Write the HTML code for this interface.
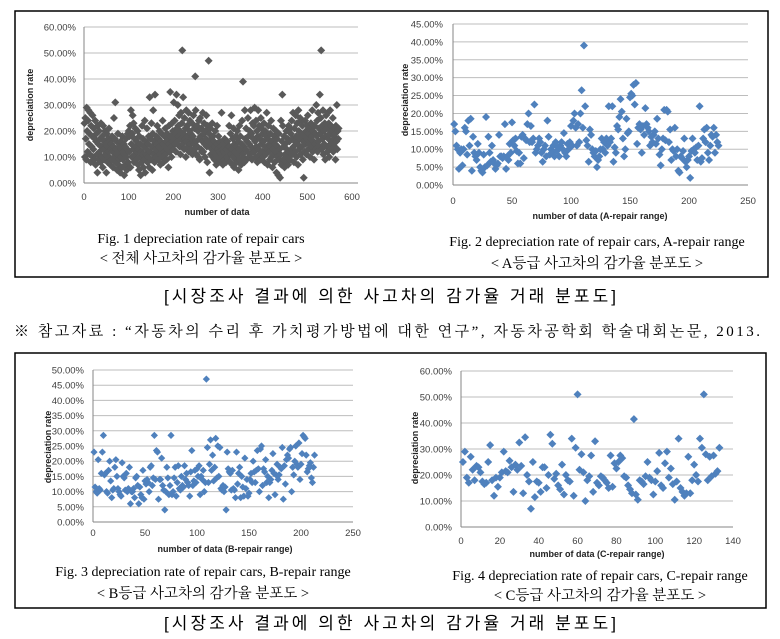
<!DOCTYPE html>
<html><head><meta charset="utf-8"><style>
html,body{margin:0;padding:0;background:#fff;}
svg{display:block;}
</style></head><body>
<svg id="s" width="780" height="639" viewBox="0 0 780 639" xmlns="http://www.w3.org/2000/svg">
<rect x="15" y="11" width="753" height="266" fill="none" stroke="#000" stroke-width="1.5"/>
<rect x="15" y="353" width="751" height="255" fill="none" stroke="#000" stroke-width="1.5"/>
<text x="201" y="243" text-anchor="middle" font-family="Liberation Serif, serif" font-size="14">Fig. 1 depreciation rate of  repair cars</text>
<text x="201" y="263" text-anchor="middle" font-family="Liberation Serif, 'Noto Serif CJK SC', serif" font-size="14.5">&lt; 전체 사고차의 감가율 분포도 &gt;</text>
<text x="597" y="246" text-anchor="middle" font-family="Liberation Serif, serif" font-size="14">Fig. 2 depreciation rate of  repair cars, A-repair range</text>
<text x="597" y="268" text-anchor="middle" font-family="Liberation Serif, 'Noto Serif CJK SC', serif" font-size="14.5">&lt; A등급 사고차의 감가율 분포도 &gt;</text>
<text x="390" y="302" text-anchor="middle" textLength="452" font-family="Liberation Sans, 'Noto Sans CJK KR', sans-serif" font-size="17">[시장조사 결과에 의한 사고차의 감가율 거래 분포도]</text>
<text x="14" y="336" textLength="746" font-family="Liberation Serif, 'Noto Serif CJK SC', serif" font-size="15">※ 참고자료 : “자동차의 수리 후 가치평가방법에 대한 연구”, 자동차공학회 학술대회논문, 2013.</text>
<text x="203" y="576" text-anchor="middle" font-family="Liberation Serif, serif" font-size="14">Fig. 3 depreciation rate of  repair cars, B-repair range</text>
<text x="203" y="598" text-anchor="middle" font-family="Liberation Serif, 'Noto Serif CJK SC', serif" font-size="14.5">&lt; B등급 사고차의 감가율 분포도 &gt;</text>
<text x="600" y="580" text-anchor="middle" font-family="Liberation Serif, serif" font-size="14">Fig. 4 depreciation rate of  repair cars, C-repair range</text>
<text x="600" y="600" text-anchor="middle" font-family="Liberation Serif, 'Noto Serif CJK SC', serif" font-size="14.5">&lt; C등급 사고차의 감가율 분포도 &gt;</text>
<text x="390" y="629" text-anchor="middle" textLength="452" font-family="Liberation Sans, 'Noto Sans CJK KR', sans-serif" font-size="17">[시장조사 결과에 의한 사고차의 감가율 거래 분포도]</text>
</svg>
<script>
const allValues = [
23,10,25,17,9,29,20,12,24,28,15,19,11,27,8,22,14,18,26,10,
13,21,9,17,24,7,16,19,11,4,22,15,9,20,12,17,8,23,14,10,
18,6,22,13,16,9,20,11,15,4,19,14,8,17,12,21,10,16,7,13,
15,9,18,12,6,14,25,10,17,31,8,13,16,5,11,19,7,14,9,12,
4,16,10,13,6,18,9,12,15,3,11,14,7,17,10,5,13,19,8,20,
12,18,22,6,28,15,10,19,26,13,23,8,17,11,21,14,9,16,12,20,
7,13,5,18,10,15,3,12,8,22,11,17,6,14,9,24,4,16,11,13,
21,8,15,10,18,6,33,12,17,9,23,14,5,19,28,11,16,8,34,13,
10,18,15,22,12,9,17,14,20,11,7,16,13,19,10,24,15,8,12,18,
14,21,11,16,9,19,13,17,6,22,15,12,35,18,14,10,23,16,20,13,
31,17,24,15,19,12,34,21,16,30,22,18,26,14,20,11,27,17,23,51,
15,33,19,13,25,17,21,10,28,16,22,18,14,27,12,20,24,15,19,13,
17,23,11,18,26,15,21,13,41,28,16,11,22,14,20,10,24,17,9,25,
18,13,21,12,16,27,12,19,23,15,10,20,17,26,14,8,22,16,47,19,
4,15,21,11,17,13,23,10,18,12,16,9,14,20,11,7,15,22,10,13,
18,8,12,16,9,14,11,27,10,13,7,15,12,9,17,11,14,8,13,10,
16,9,12,14,22,14,8,19,11,26,13,7,17,10,21,6,15,12,9,18,
14,8,20,11,16,5,13,22,9,18,12,7,15,24,11,39,10,14,8,28,
17,13,21,9,16,12,25,18,10,15,20,11,28,14,19,9,23,13,17,22,
12,29,16,10,24,14,20,8,18,28,13,22,11,17,9,25,15,21,12,19,
10,16,23,8,14,20,11,18,27,13,7,17,22,12,15,9,19,14,24,10,
16,6,13,21,11,18,8,15,12,20,4,17,10,14,3,19,9,13,2,11,
24,7,16,34,22,9,14,18,6,11,15,8,20,13,10,17,7,22,12,16,
9,21,19,13,24,11,17,27,14,8,21,16,12,26,18,10,23,15,7,28,
20,13,17,25,11,19,24,14,22,9,16,2,18,12,24,15,20,11,17,22,
26,13,19,15,21,10,17,23,14,18,28,12,20,16,9,22,15,19,13,30,
18,24,12,27,16,21,14,34,19,25,51,13,22,17,28,11,20,15,23,9,
18,26,14,21,12,27,17,23,10,19,28,15,22,13,20,16,25,12,18,21,
14,19,9,22,16,30,13,20,17,21];
const aValues = [
17,15,11,10,4.5,9,10,5.5,10,16, 15,8.5,18,11,18.5,4,13.5,9,8,7,
11.5,9,5,4,3.5,8.5,5,19,5.5,13.5, 9,6.5,11,7,6,4.5,5.5,6,14,8,
8,7.5,8,17,4.5,8,7,11.5,9,17.5, 12.5,11,13,9.5,6,9,6,13.5,14,7.5,
13,12.5,17,20,12,16.5,12,13,22.5,9, 10,11,13,12,9,6.5,10,11,8,18,
13.5,8.5,10,9,11,8,12,9.5,10.5,8, 11,12,10,14.5,9,8,11.5,10,12,16.5,
11,18,20,16,11,17,12,20,26.5,16, 39,22,12.5,11,6.5,15.5,14,10,9,8,
9.5,5,7,8,10,13,10,12,9,13, 11,22,12,13,22,6.5,10.5,9,16.5,15.5,
19,24,20.5,13,8,10,18.5,14.5,15,24.5, 25.5,25,28,22.5,28.5,11.5,16,17,15.5,9,
16.5,14,21.5,17,16,15,11,13.5,12,14, 15,11.5,18.5,13,8.5,5.5,10,13,21,12.5,
21,20.5,12,15.5,7,10,9.5,16,8,10, 4,3.5,8,7.5,9.5,13,6.5,5,7,8,
2,9.5,13,10,9,10.5,7,11,22,6.5, 7.5,13,15.5,12,16,9,7,11,14,13.5,
16,9,14,12,11];
const bValues = [
23,11.5,10,9.5,20.5,11,10.5,16,23,28.5, 15.5,16,10,9.5,17,20,13.5,8,10.5,11,
18,20.5,15,11,10,9,8.5,19.5,15,14.5, 10.5,16,10,11,18,6,10,10,11,8,
14.5,15,12,6,11.5,9,8,17,7.5,13.5, 12.5,14,13,10,18,18.5,12,14.5,28.5,14,
23.5,23,7.5,14,14,21,12,10.5,4,10, 18,14.5,9,12,28.5,9,10,14.5,18,8.5,
13,18.5,11,10.5,15,12,11.5,18.5,14,16, 13,12,8.5,16.5,23.5,12,13.5,17,13,17.5,
15,18.5,9,15,14,17,10,13,47,24.5, 13,19,27,17,22,13.5,18,27.5,14.5,25,
15,24.5,11,10.5,12,10,11.5,4,23,17.5, 16.5,16,10.5,17,11,10.5,8,23,12.5,16,
18,8,15,11.5,8.5,21,11,14,8.5,9.5, 14,16,13,20,16.5,13,17,23.5,17.5,10,
24,25,12,17.5,16.5,20.5,13,15,8,13, 14,17,22.5,16,9,15.5,19,14,15.5,18,
17.5,24.5,7.5,18.5,12.5,20.5,22,21,24,24.5, 10,18,15.5,20,25,19,18,26,14,19,
22.5,28.5,28,27.5,22,16.5,17.5,18.5,19.5,14.5, 13,18,22];
const cValues = [
25,29,19,17,27,22,18,23.5,23,21, 17.5,16.5,17,25,31.5,18,12,19,15.5,19,
21,29,21.5,21,25.5,23,13.5,24,22,32.5, 23.5,13,34.5,20,17.5,7,25,11.5,17.5,17,
13.5,23,23,15,20,35.5,32,18.5,20.5,16, 14.5,24,12.5,20,18,17.5,34,12,30.5,51,
22,28,21,10,18,19.5,27.5,13.5,33,17, 16,19.5,19,18,17,15,27.5,15.5,24.5,22.5,
25,27.5,26.5,19.5,19,16,14.5,13,41.5,12.5, 10.5,18,17.5,16.5,19.5,25,19,18,12.5,17.5,
21.5,28.5,16,15,24.5,29,19,22.5,16.5,10.5, 17.5,34,15,13.5,12,13,27,13,18,24,
20,17.5,34,30.5,51,28,18,27,19.5,27.5, 20.5,21.5,30.5];
const yTicks1 = [0,10,20,30,40,50,60];
const xTicks1 = [0,100,200,300,400,500,600];
const yTicksA = [0,5,10,15,20,25,30,35,40,45];
const xTicksA = [0,50,100,150,200,250];
const yTicksB = [0,5,10,15,20,25,30,35,40,45,50];
const xTicksB = [0,50,100,150,200,250];
const yTicksC = [0,10,20,30,40,50,60];
const xTicksC = [0,20,40,60,80,100,120,140];

const NS = 'http://www.w3.org/2000/svg';
const svg = document.getElementById('s');
function mk(tag, attrs, parent) {
  const e = document.createElementNS(NS, tag);
  for (const k in attrs) e.setAttribute(k, attrs[k]);
  (parent || svg).appendChild(e);
  return e;
}
function drawChart(c) {
  const g = mk('g', {});
  
  
  const xs = v => c.x0 + (v - c.xmin) / (c.xmax - c.xmin) * (c.x1 - c.x0);
  const ys = v => c.y0 - (v - c.ymin) / (c.ymax - c.ymin) * (c.y0 - c.y1);
  c.yTicks.forEach(t => {
    const l = mk('line', {x1: c.x0, x2: c.gridEnd, y1: ys(t), y2: ys(t), stroke: t === 0 ? '#868686' : '#bdbdbd', 'stroke-width': 1}, g);
    
    
    const tx = mk('text', {x: c.labelRight, y: ys(t) + 3.5, 'text-anchor': 'end', 'font-family': 'Liberation Sans, sans-serif', 'font-size': 9.5, fill: '#404040'}, g);
    tx.textContent = t.toFixed(2) + '%';
    
    
  });
  const ax = mk('line', {x1: c.x0, x2: c.x0, y1: c.y0, y2: c.y1, stroke: '#868686', 'stroke-width': 1}, g);
  
  
  c.xTicks.forEach(t => {
    const tx = mk('text', {x: xs(t), y: c.xLabelY, 'text-anchor': 'middle', 'font-family': 'Liberation Sans, sans-serif', 'font-size': 9.5, fill: '#404040'}, g);
    tx.textContent = t;
    
    
  });
  const xt = mk('text', {x: c.xTitleX, y: c.xTitleY, 'text-anchor': 'middle', 'font-family': 'Liberation Sans, sans-serif', 'font-size': 9, 'font-weight': 'bold', fill: '#222'}, g);
  xt.textContent = c.xTitle;
  
  
  const yt = mk('text', {x: 0, y: 0, transform: 'translate(' + c.yTitleX + ',' + c.yTitleY + ') rotate(-90)', 'text-anchor': 'middle', 'font-family': 'Liberation Sans, sans-serif', 'font-size': 9, 'font-weight': 'bold', fill: '#222'}, g);
  yt.textContent = 'depreciation rate';
  
  
  c.values.forEach((v, i) => {
    const px = xs(i + 1), py = ys(v), r = c.r;
    const p = mk('polygon', {points: px + ',' + (py - r) + ' ' + (px + r) + ',' + py + ' ' + px + ',' + (py + r) + ' ' + (px - r) + ',' + py, fill: c.color}, g);
    
    
  });
}
drawChart({name: 'chart-all-repair-cars', values: allValues, yTicks: yTicks1, xTicks: xTicks1, xmin: 0, xmax: 600, ymin: 0, ymax: 60,
  x0: 84, x1: 352, y0: 183, y1: 27, gridEnd: 358, labelRight: 76, xLabelY: 200, xTitle: 'number of data', xTitleX: 217, xTitleY: 215,
  yTitleX: 33, yTitleY: 105, r: 4, color: '#595959'});
drawChart({name: 'chart-a-repair-range', values: aValues, yTicks: yTicksA, xTicks: xTicksA, xmin: 0, xmax: 250, ymin: 0, ymax: 45,
  x0: 453, x1: 748, y0: 185, y1: 24, gridEnd: 748, labelRight: 443, xLabelY: 204, xTitle: 'number  of data (A-repair range)', xTitleX: 600, xTitleY: 219,
  yTitleX: 408, yTitleY: 100, r: 4, color: '#4f81bd'});
drawChart({name: 'chart-b-repair-range', values: bValues, yTicks: yTicksB, xTicks: xTicksB, xmin: 0, xmax: 250, ymin: 0, ymax: 50,
  x0: 93, x1: 353, y0: 522, y1: 370, gridEnd: 353, labelRight: 84, xLabelY: 536, xTitle: 'number  of data (B-repair range)', xTitleX: 225, xTitleY: 552,
  yTitleX: 51, yTitleY: 447, r: 3.6, color: '#4f81bd'});
drawChart({name: 'chart-c-repair-range', values: cValues, yTicks: yTicksC, xTicks: xTicksC, xmin: 0, xmax: 140, ymin: 0, ymax: 60,
  x0: 461, x1: 733, y0: 527, y1: 371, gridEnd: 733, labelRight: 452, xLabelY: 544, xTitle: 'number of data (C-repair range)', xTitleX: 597, xTitleY: 557,
  yTitleX: 418, yTitleY: 448, r: 4, color: '#4f81bd'});
</script>
</body></html>
